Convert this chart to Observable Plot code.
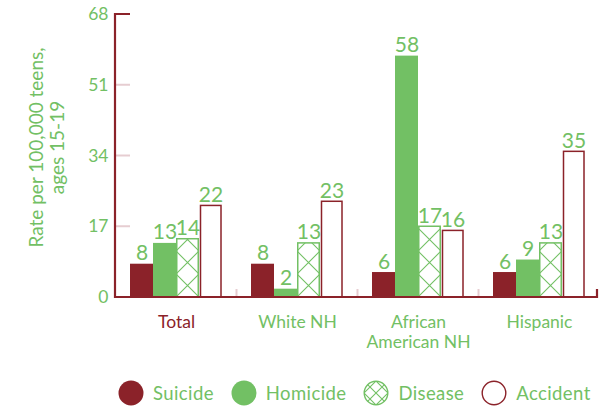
<!DOCTYPE html>
<html><head><meta charset="utf-8">
<script src="https://cdn.jsdelivr.net/npm/d3@7"></script>
<script src="https://cdn.jsdelivr.net/npm/@observablehq/plot@0.6"></script>
<style>
body{margin:0;background:#fff;font-family:Lato, sans-serif;}
#legend{display:flex;align-items:center;padding-left:118px;padding-top:28px;height:26px;padding-bottom:0;box-sizing:content-box;}
.item{display:flex;align-items:center;margin-right:17px;}
.item span{margin-left:9px;font-size:18.5px;color:#72C064;letter-spacing:0.4px;}
</style></head><body><div id="chart"></div><div id="legend"></div>
<script>
const categories = ["Total", "White NH", "African\nAmerican NH", "Hispanic"];
const causes = ["Suicide", "Homicide", "Disease", "Accident"];
const suicide = [8, 8, 6, 6];
const homicide = [13, 2, 58, 9];
const disease = [14, 13, 17, 13];
const accident = [22, 23, 16, 35];
const yTicks = [0, 17, 34, 51, 68];
const yTitle = ["Rate per 100,000 teens,", "ages 15-19"];

const RED = "#8B2229", GREEN = "#72C064", PINK = "#E6CDD1";
const series = {Suicide: suicide, Homicide: homicide, Disease: disease, Accident: accident};
const data = categories.flatMap((c, i) => causes.map(k => ({category: c, cause: k, value: series[k][i]})));
const of = k => data.filter(d => d.cause === k);

const plot = Plot.plot({
  width: 603, height: 352,
  marginLeft: 115, marginRight: 4, marginTop: 14, marginBottom: 55,
  style: {fontFamily: "Lato, sans-serif", background: "white", overflow: "visible"},
  fx: {domain: categories, paddingInner: 0.24, paddingOuter: 0.107, label: null},
  x: {domain: causes, padding: 0, axis: null},
  y: {domain: [0, 68], axis: null},
  marks: [
    Plot.axisY({ticks: yTicks, tickSize: 0, tickPadding: 22, fill: GREEN, fontSize: 17.5, label: null}),
    Plot.axisFx({anchor: "bottom", tickSize: 0, tickPadding: 17, fontSize: 17.5, label: null,
      fill: d => d === "Total" ? RED : GREEN, lineHeight: 1.12}),
    Plot.barY(of("Suicide"), {fx: "category", x: "cause", y: "value", fill: RED}),
    Plot.barY(of("Homicide"), {fx: "category", x: "cause", y: "value", fill: GREEN}),
    Plot.barY(of("Disease"), {fx: "category", x: "cause", y: "value", fill: "white", stroke: GREEN, strokeWidth: 1.5, insetLeft: 0.75, insetRight: 0.75, className: "disease"}),
    Plot.barY(of("Accident"), {fx: "category", x: "cause", y: "value", fill: "white", stroke: RED, strokeWidth: 1.5, insetLeft: 1.5, insetRight: 1, className: "accident"}),
    Plot.text(data, {fx: "category", x: "cause", y: "value", text: d => String(d.value), lineAnchor: "bottom", dy: -4, fill: GREEN, fontSize: 21})
  ]
});

const svg = d3.select(plot);
const xs = plot.scale("x"), ys = plot.scale("y"), fxs = plot.scale("fx");
const bw = xs.bandwidth;
const y0 = ys.apply(0), yTop = ys.apply(68);

// hatch pattern aligned to the disease bars
const defs = svg.insert("defs", ":first-child");
const pat = defs.append("pattern").attr("id", "hatch").attr("patternUnits", "userSpaceOnUse")
  .attr("x", xs.apply("Disease")).attr("y", y0).attr("width", bw).attr("height", bw);
pat.append("rect").attr("width", bw).attr("height", bw).attr("fill", "white");
pat.append("path").attr("d", `M0,0L${bw},${bw}M${bw},0L0,${bw}`).attr("stroke", GREEN).attr("stroke-width", 1.1).attr("fill", "none");
svg.selectAll(".disease rect").attr("fill", "url(#hatch)");

// frame drawn from the scales
const fr = svg.append("g");
const xL = fxs.range[0], xR = fxs.range[1];
const firstBar = fxs.apply(categories[0]);
const step = fxs.apply(categories[1]) - fxs.apply(categories[0]);
const gap = step - fxs.bandwidth;
yTicks.slice(1, -1).forEach(t => {
  fr.append("line").attr("x1", xL).attr("x2", firstBar).attr("y1", ys.apply(t)).attr("y2", ys.apply(t)).attr("stroke", PINK).attr("stroke-width", 2);
});
categories.slice(1).forEach(c => {
  const xx = fxs.apply(c) - gap / 2;
  fr.append("line").attr("x1", xx).attr("x2", xx).attr("y1", y0 - 8).attr("y2", y0).attr("stroke", PINK).attr("stroke-width", 2);
});
fr.append("path").attr("d", `M${firstBar},${yTop}H${xL}V${y0}H${xR - 2}V${y0 - 8}`)
  .attr("fill", "none").attr("stroke", RED).attr("stroke-width", 2.2);

// y title
const tt = svg.append("text").attr("transform", `translate(47,${(y0 + yTop) / 2 - 8}) rotate(-90)`)
  .attr("text-anchor", "middle").attr("fill", GREEN).attr("font-size", 19).attr("font-family", "Lato, sans-serif");
yTitle.forEach((s, i) => tt.append("tspan").attr("x", 0).attr("y", (i - 0.5) * 21 + 6).text(s));

document.getElementById("chart").appendChild(plot);

// legend
const leg = d3.select("#legend");
causes.forEach(k => {
  const it = leg.append("div").attr("class", "item");
  const s = it.append("svg").attr("width", 26).attr("height", 26);
  if (k === "Disease") {
    const d2 = s.append("defs").append("pattern").attr("id", "lh").attr("patternUnits", "userSpaceOnUse")
      .attr("x", 1).attr("y", 1).attr("width", 12).attr("height", 12);
    d2.append("path").attr("d", "M0,0L12,12M12,0L0,12").attr("stroke", GREEN).attr("stroke-width", 1.1);
  }
  s.append("circle").attr("cx", 13).attr("cy", 13).attr("r", k === "Suicide" || k === "Homicide" ? 12.5 : 11.8)
    .attr("fill", k === "Suicide" ? RED : k === "Homicide" ? GREEN : k === "Disease" ? "url(#lh)" : "white")
    .attr("stroke", k === "Suicide" ? "none" : k === "Homicide" ? "none" : k === "Disease" ? GREEN : RED)
    .attr("stroke-width", 1.4);
  it.append("span").text(k);
});
</script></body></html>
